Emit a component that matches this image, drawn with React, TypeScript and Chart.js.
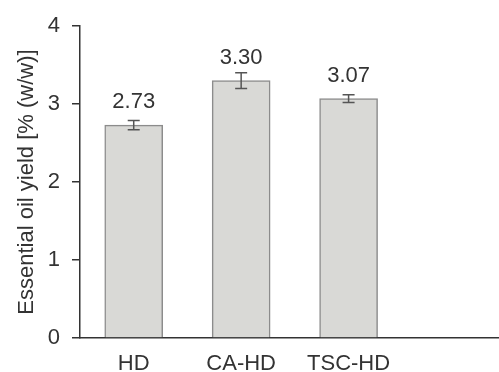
import React, { useEffect, useRef } from "react";
import { Chart, registerables } from "chart.js";

Chart.register(...registerables);

const categories = ["HD", "CA-HD", "TSC-HD"];
const yieldValues = [2.73, 3.3, 3.07];
const errorValues = [0.06, 0.1, 0.05];
const valueLabels = ["2.73", "3.30", "3.07"];
const yTicks = [0, 1, 2, 3, 4];

const FONT = "'Liberation Sans', Arial, sans-serif";
const TEXT = "#333333";

const errorBarPlugin = {
  id: "errorBars",
  afterDatasetsDraw(chart: any) {
    const { ctx, scales } = chart;
    const xs = scales.x;
    const ys = scales.y;
    ctx.save();
    yieldValues.forEach((v, i) => {
      const cx = xs.getPixelForValue(i);
      const top = ys.getPixelForValue(v + errorValues[i]);
      const bot = ys.getPixelForValue(v - errorValues[i]);
      ctx.strokeStyle = "#555555";
      ctx.lineWidth = 1.5;
      ctx.beginPath();
      ctx.moveTo(cx, top);
      ctx.lineTo(cx, bot);
      ctx.moveTo(cx - 6, top);
      ctx.lineTo(cx + 6, top);
      ctx.moveTo(cx - 6, bot);
      ctx.lineTo(cx + 6, bot);
      ctx.stroke();
      ctx.fillStyle = TEXT;
      ctx.font = `22px ${FONT}`;
      ctx.textAlign = "center";
      ctx.textBaseline = "alphabetic";
      ctx.fillText(valueLabels[i], cx, ys.getPixelForValue(v) - 17);
    });
    ctx.restore();
  },
};

export default function App() {
  const ref = useRef<HTMLCanvasElement | null>(null);
  useEffect(() => {
    document.body.style.margin = "0";
    const chart = new Chart(ref.current as HTMLCanvasElement, {
      type: "bar",
      data: {
        datasets: [
          {
            data: yieldValues.map((v, i) => ({ x: i, y: v })),
            backgroundColor: "#d9d9d6",
            borderColor: "#8c8c8c",
            borderWidth: 1.5,
            barThickness: 58,
          },
        ],
      },
      options: {
        animation: false,
        responsive: false,
        maintainAspectRatio: false,
        layout: { padding: { top: 26, right: 0, left: 0, bottom: 0 } },
        plugins: { legend: { display: false }, tooltip: { enabled: false } },
        scales: {
          x: {
            type: "linear",
            offset: false,
            min: -0.5,
            max: 3.4,
            grid: { display: false, drawTicks: false },
            border: { display: true, color: "#333333", width: 1.5 },
            afterBuildTicks: (scale: any) => {
              scale.ticks = categories.map((_, i) => ({ value: i }));
            },
            afterFit: (scale: any) => {
              scale.height = 34;
            },
            ticks: {
              autoSkip: false,
              maxRotation: 0,
              padding: 13,
              color: TEXT,
              font: { family: FONT, size: 22 },
              callback: (v: any) => categories[v as number] ?? "",
            },
          },
          y: {
            min: 0,
            max: 4,
            afterBuildTicks: (scale: any) => {
              scale.ticks = yTicks.map((t) => ({ value: t }));
            },
            afterFit: (scale: any) => {
              scale.width = 80;
            },
            grid: {
              display: true,
              drawOnChartArea: false,
              drawTicks: true,
              tickLength: 8,
              color: "#333333",
              lineWidth: 1.5,
            },
            border: { display: true, color: "#333333", width: 1.5 },
            ticks: {
              padding: 12,
              color: TEXT,
              font: { family: FONT, size: 22 },
            },
            title: {
              display: true,
              text: "Essential oil yield [% (w/w)]",
              color: TEXT,
              font: { family: FONT, size: 22 },
              padding: { top: 14, bottom: 0 },
            },
          },
        },
      },
      plugins: [errorBarPlugin],
    });
    return () => chart.destroy();
  }, []);
  return (
    <div style={{ width: 499, height: 372 }}>
      <canvas ref={ref} width={499} height={372} style={{ display: "block" }} />
    </div>
  );
}
